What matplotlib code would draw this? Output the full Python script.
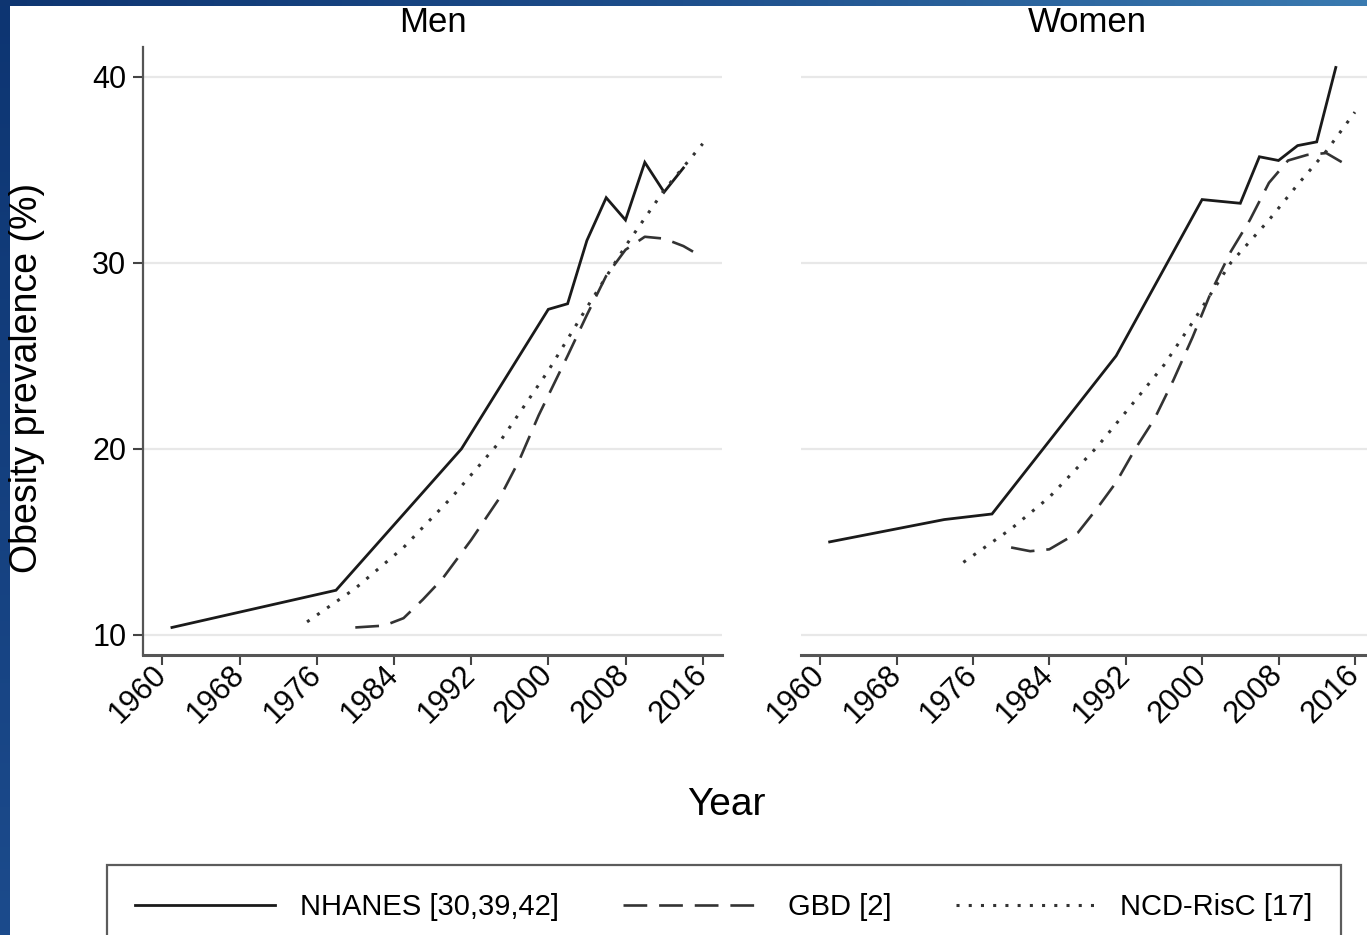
import matplotlib
matplotlib.use("Agg")
import matplotlib.pyplot as plt
import matplotlib.transforms as mtransforms
import numpy as np
from matplotlib.colors import LinearSegmentedColormap

plt.rcParams['font.family'] = ['Liberation Sans', 'DejaVu Sans']

# ---------------- data ----------------
tick_years = [1960, 1968, 1976, 1984, 1992, 2000, 2008, 2016]
y_ticks = [10, 20, 30, 40]

men_nhanes_years = [1961, 1978, 1991, 2000, 2002, 2004, 2006, 2008, 2010, 2012, 2014]
men_nhanes = [10.4, 12.4, 20.0, 27.5, 27.8, 31.2, 33.5, 32.3, 35.4, 33.8, 35.1]

men_gbd_years = [1980, 1983, 1985, 1987, 1989, 1992, 1995, 1997, 1999, 2002, 2004, 2006, 2008, 2010, 2012, 2014, 2015]
men_gbd = [10.4, 10.5, 10.9, 11.9, 13.0, 15.1, 17.4, 19.4, 21.8, 25.0, 27.2, 29.3, 30.7, 31.4, 31.3, 30.9, 30.6]

men_ncd_years = [1975, 1980, 1985, 1990, 1995, 2000, 2004, 2008, 2012, 2016]
men_ncd = [10.7, 12.5, 14.7, 17.4, 20.4, 24.2, 27.6, 30.9, 33.9, 36.4]

women_nhanes_years = [1961, 1973, 1978, 1991, 2000, 2002, 2004, 2006, 2008, 2010, 2012, 2014]
women_nhanes = [15.0, 16.2, 16.5, 25.0, 33.4, 33.3, 33.2, 35.7, 35.5, 36.3, 36.5, 40.5]

women_gbd_years = [1980, 1982, 1984, 1987, 1989, 1991, 1993, 1995, 1997, 1999, 2001, 2003, 2005, 2007, 2009, 2011, 2013, 2015]
women_gbd = [14.7, 14.5, 14.6, 15.5, 16.8, 18.2, 20.0, 21.6, 23.7, 26.0, 28.5, 30.6, 32.3, 34.3, 35.5, 35.8, 35.9, 35.3]

women_ncd_years = [1975, 1980, 1984, 1989, 1993, 1996, 1999, 2003, 2007, 2010, 2013, 2016]
women_ncd = [13.9, 15.7, 17.4, 20.1, 22.6, 24.5, 26.8, 30.0, 32.3, 34.2, 36.0, 38.1]

labels = ["NHANES [30,39,42]", "GBD [2]", "NCD-RisC [17]"]
panel_titles = ["Men", "Women"]

# ---------------- figure ----------------
W, H = 1367, 935
fig = plt.figure(figsize=(W / 100, H / 100), dpi=100)
fig.patch.set_facecolor('white')

def fx(px):
    return px / W

def fy(py):
    return 1 - py / H

top_px, bot_px = 47, 655
ax_m = fig.add_axes([fx(143), fy(bot_px), (722 - 143) / W, (bot_px - top_px) / H])
ax_w = fig.add_axes([fx(801), fy(bot_px), (1374 - 801) / W, (bot_px - top_px) / H])

line_col = '#1a1a1a'
styles = [
    dict(color=line_col, lw=2.0, linestyle='-'),
    dict(color='#333333', lw=1.9, linestyle=(0, (9, 4.5))),
    dict(color='#333333', lw=2.2, linestyle=(0, (1, 3.0))),
]

series = [
    (ax_m, [(men_nhanes_years, men_nhanes), (men_gbd_years, men_gbd), (men_ncd_years, men_ncd)]),
    (ax_w, [(women_nhanes_years, women_nhanes), (women_gbd_years, women_gbd), (women_ncd_years, women_ncd)]),
]

handles = []
for ax, data in series:
    hs = []
    for (x, y), st, lab in zip(data, styles, labels):
        h, = ax.plot(x, y, label=lab, solid_joinstyle='miter', **st)
        hs.append(h)
    if not handles:
        handles = hs

shift = mtransforms.ScaledTranslation(6 / 100, 0, fig.dpi_scale_trans)
for i, ax in enumerate([ax_m, ax_w]):
    ax.set_xlim(1958, 2018)
    ax.set_ylim(8.92, 41.6)
    ax.set_yticks(y_ticks)
    ax.yaxis.grid(True, color='#e8e8e8', lw=1.6)
    ax.set_axisbelow(True)
    ax.set_xticks(tick_years)
    ax.set_xticklabels([str(t) for t in tick_years], rotation=45, ha='right',
                       va='center', rotation_mode='anchor', fontsize=22)
    for lab in ax.get_xticklabels():
        lab.set_transform(lab.get_transform() + shift)
    for s in ['top', 'right']:
        ax.spines[s].set_visible(False)
    ax.spines['bottom'].set_color('#555555')
    ax.spines['bottom'].set_linewidth(2.2)
    ax.spines['left'].set_color('#555555')
    ax.spines['left'].set_linewidth(1.6)
    ax.tick_params(axis='x', length=7, width=1.5, color='#444444', pad=4)
    ax.tick_params(axis='y', length=7, width=1.5, color='#444444', pad=5, labelsize=22)
    ax.set_facecolor('white')
    fig.text((ax.get_position().x0 + ax.get_position().x1) / 2, fy(22), panel_titles[i],
             ha='center', va='center', fontsize=25)

ax_w.spines['left'].set_visible(False)
ax_w.tick_params(axis='y', left=False, labelleft=False)

fig.text(fx(27), fy(378), "Obesity prevalence (%)", rotation=90, ha='center', va='center', fontsize=27)
fig.text(fx(726), fy(805), "Year", ha='center', va='center', fontsize=28)

leg = fig.legend(handles=handles, labels=labels, loc='upper center',
                 bbox_to_anchor=(fx(724), fy(865)), ncol=3, fontsize=21,
                 handlelength=4.8, handletextpad=0.85, columnspacing=2.2,
                 borderpad=0.95, borderaxespad=0, fancybox=False, frameon=True)
leg.get_frame().set_edgecolor('#333333')
leg.get_frame().set_linewidth(1.6)

# slide border (blue)
cm_v = LinearSegmentedColormap.from_list('v', ['#0d3572', '#1c4b8c'])
cm_h = LinearSegmentedColormap.from_list('h', ['#0e3571', '#1e4f8c', '#3a7ab0'])
bl = fig.add_axes([0, 0, 10 / W, 1])
bl.imshow(np.linspace(0, 1, 256).reshape(-1, 1), aspect='auto', cmap=cm_v)
bl.axis('off')
bt = fig.add_axes([0, fy(6), 1, 6 / H])
bt.imshow(np.linspace(0, 1, 256).reshape(1, -1), aspect='auto', cmap=cm_h)
bt.axis('off')

fig.savefig('out.png', dpi=100, facecolor='white')
